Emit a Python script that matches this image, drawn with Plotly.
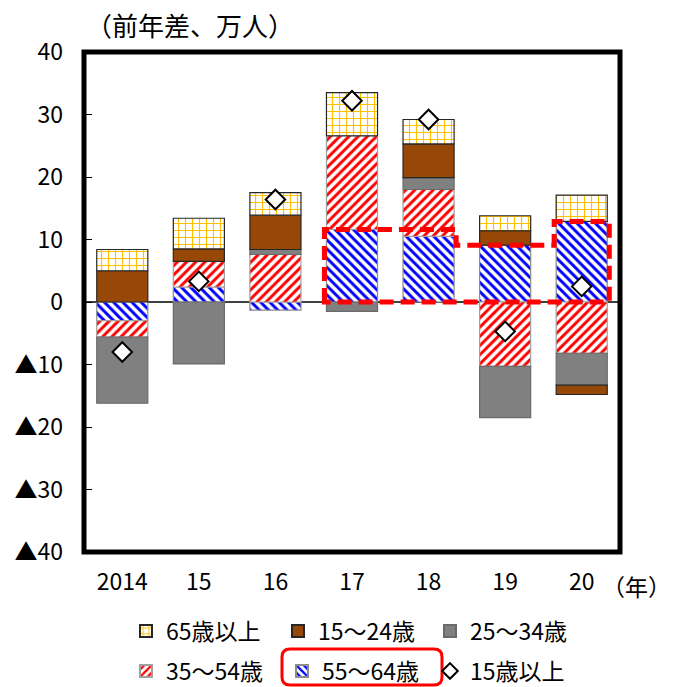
import plotly.graph_objects as go

# Year labels and year-on-year change (10,000 persons) by age group
years = ["2014", "15", "16", "17", "18", "19", "20"]
age_65_over = [3.4, 4.9, 3.6, 6.9, 3.9, 2.4, 4.2]
age_15_24 = [5.0, 2.0, 5.5, 0.0, 5.4, 2.3, -1.5]
age_25_34 = [-10.6, -9.9, 0.8, -1.5, 1.9, -8.2, -5.1]
age_35_54 = [-2.6, 4.1, 7.6, 15.0, 7.5, -10.3, -8.2]
age_55_64 = [-3.0, 2.4, -1.3, 11.6, 10.5, 9.1, 12.9]
age_15_over = [-8.0, 3.3, 16.4, 32.2, 29.2, -4.7, 2.5]

y_tick_vals = [40, 30, 20, 10, 0, -10, -20, -30, -40]
y_tick_text = ["40", "30", "20", "10", "0", "▲10", "▲20", "▲30", "▲40"]

FONT = "Noto Sans CJK JP"
FS = 23

x = list(range(len(years)))

# plot area geometry in pixels (used to place legends / annotations)
W, H = 683, 687
ML, MR, MT, MB = 84, 63, 52, 135
PW, PH = W - ML - MR, H - MT - MB


def px_x(p):
    return (p - ML) / PW


def px_y(p):
    return (H - MB - p) / PH


fig = go.Figure()

# stacking order from the zero line outward
series = [
    ("55～64歳", age_55_64, dict(shape="\\", fgcolor="#0000FF", bgcolor="white",
                                 size=6.5, solidity=0.45, fillmode="replace"),
     "#0000FF", "#8c8c8c", "legend5"),
    ("35～54歳", age_35_54, dict(shape="/", fgcolor="#FF0000", bgcolor="white",
                                 size=6.5, solidity=0.45, fillmode="replace"),
     "#FF0000", "#a0a0a0", "legend4"),
    ("25～34歳", age_25_34, None, "#808080", "#6a6a6a", "legend3"),
    ("15～24歳", age_15_24, None, "#974706", "#262626", "legend2"),
    ("65歳以上", age_65_over, dict(shape="+", fgcolor="#FFC000", bgcolor="white",
                                 size=7, solidity=0.3, fillmode="replace"),
     "#FFC000", "#262626", "legend"),
]

for name, vals, pattern, color, line_color, leg in series:
    marker = dict(color=color, line=dict(color=line_color, width=1.2))
    if pattern:
        marker["pattern"] = pattern
    fig.add_trace(go.Bar(x=x, y=vals, name=name, marker=marker,
                         legend=leg, showlegend=True))

fig.add_trace(go.Scatter(
    x=x, y=age_15_over, name="15歳以上", mode="markers",
    marker=dict(symbol="diamond", size=15, color="white",
                line=dict(color="black", width=2)),
    legend="legend6", showlegend=True,
))

# legend entries, laid out as two rows of three (container coordinates,
# so they do not push the plot margins)
leg_text_x = [166, 318, 470]
row_y = [631, 671]
leg_common = dict(xanchor="left", yanchor="middle", orientation="h",
                  xref="container", yref="container",
                  font=dict(family=FONT, size=FS, color="black"),
                  bgcolor="rgba(0,0,0,0)", itemwidth=30, itemsizing="constant")
legend_pos = {
    "legend": (leg_text_x[0], row_y[0]),
    "legend2": (leg_text_x[1], row_y[0]),
    "legend3": (leg_text_x[2], row_y[0]),
    "legend4": (leg_text_x[0], row_y[1]),
    "legend5": (leg_text_x[1] + 4, row_y[1]),
    "legend6": (leg_text_x[2], row_y[1]),
}
legend_layout = {}
for key, (tx, ty) in legend_pos.items():
    legend_layout[key] = dict(leg_common, x=(tx - 40) / W, y=1 - ty / H)

# dashed outline around the 55-64 bars for 2017-2020
half = 0.36
top_a = max(age_55_64[3], age_55_64[4])
top_b = age_55_64[5]
top_c = age_55_64[6]
dash_path = (f"M {3 - half},0 L {3 - half},{top_a} L {4 + half},{top_a} "
             f"L {4 + half},{top_b} L {6 - half},{top_b} L {6 - half},{top_c} "
             f"L {6 + half},{top_c} L {6 + half},0 Z")

# rounded box around the 55-64 legend entry
bx0, bx1, by0, by1, r = 282, 442, 649, 685, 8
rx, ry = r / PW, r / PH
X0, X1, Y0, Y1 = px_x(bx0), px_x(bx1), px_y(by1), px_y(by0)
box_path = (f"M {X0 + rx},{Y1} L {X1 - rx},{Y1} Q {X1},{Y1} {X1},{Y1 - ry} "
            f"L {X1},{Y0 + ry} Q {X1},{Y0} {X1 - rx},{Y0} L {X0 + rx},{Y0} "
            f"Q {X0},{Y0} {X0},{Y0 + ry} L {X0},{Y1 - ry} Q {X0},{Y1} {X0 + rx},{Y1} Z")

fig.update_layout(
    width=W, height=H,
    margin=dict(l=ML, r=MR, t=MT, b=MB, pad=0, autoexpand=False),
    paper_bgcolor="white", plot_bgcolor="white",
    barmode="relative", bargap=0.333,
    font=dict(family=FONT, size=FS, color="black"),
    xaxis=dict(range=[-0.5, 6.5], tickmode="array", tickvals=x, ticktext=years,
               showgrid=False, zeroline=False, showline=False, ticks="",
               ticklabelstandoff=14, fixedrange=True),
    yaxis=dict(range=[-40, 40], tickmode="array", tickvals=y_tick_vals,
               ticktext=y_tick_text, showgrid=False, zeroline=True,
               zerolinecolor="#404040", zerolinewidth=1.5, showline=False,
               ticks="inside", ticklen=8, tickwidth=1, tickcolor="black",
               ticklabelstandoff=20, fixedrange=True),
    shapes=[
        dict(type="path", path=dash_path, xref="x", yref="y",
             line=dict(color="#FF0000", width=5, dash="14px,7px"), layer="above"),
        dict(type="rect", xref="paper", yref="paper", x0=0, x1=1, y0=0, y1=1,
             line=dict(color="black", width=5), layer="above"),
        dict(type="path", path=box_path, xref="paper", yref="paper",
             line=dict(color="#FF0000", width=3), layer="above"),
    ],
    annotations=[
        dict(text="（前年差、万人）", xref="paper", yref="paper",
             x=px_x(190), y=px_y(25), xanchor="center", yanchor="middle",
             showarrow=False, font=dict(family=FONT, size=26)),
        dict(text="（年）", xref="paper", yref="paper",
             x=px_x(636), y=px_y(586), xanchor="center", yanchor="middle",
             showarrow=False, font=dict(family=FONT, size=FS)),
    ],
    **legend_layout,
)

fig.write_html("out.html")
